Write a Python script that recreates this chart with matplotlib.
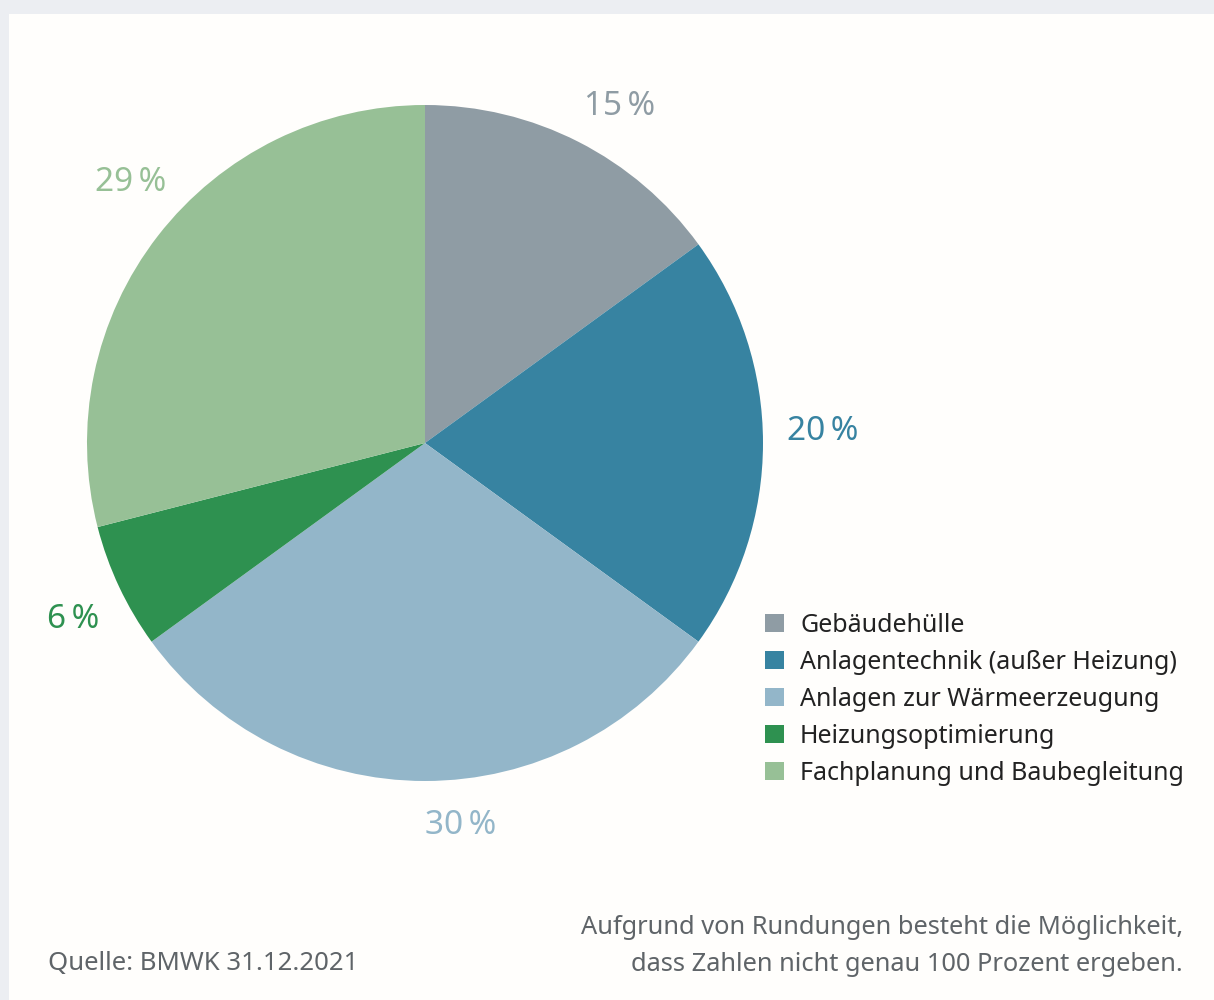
import matplotlib.pyplot as plt
from matplotlib.patches import Rectangle

categories = ['Gebäudehülle', 'Anlagentechnik (außer Heizung)', 'Anlagen zur Wärmeerzeugung',
              'Heizungsoptimierung', 'Fachplanung und Baubegleitung']
shares = [15, 20, 30, 6, 29]
colors = ['#8f9ca4', '#3783a1', '#93b6c9', '#2e9150', '#97c096']

plt.rcParams['font.family'] = ['Noto Sans', 'DejaVu Sans']

fig = plt.figure(figsize=(12.14, 10), dpi=100)
fig.patch.set_facecolor('#eceef2')
# white card
fig.add_artist(Rectangle((9 / 1214, 0), 1, 1 - 14 / 1000, transform=fig.transFigure,
                         facecolor='#fffefc', edgecolor='none', zorder=0))

ax = fig.add_axes([87 / 1214, 219 / 1000, 676 / 1214, 676 / 1000])
wedges, texts = ax.pie(shares, colors=colors, startangle=90, counterclock=False,
                       labels=[f'{s}\u2009%' for s in shares], labeldistance=1.16,
                       wedgeprops=dict(linewidth=0))
# small nudges of the labels (pixels, x right / y down)
nudges = [(17, 13), (6, -12), (36, -10), (3, 10), (15, -20)]
for t, c, (dx, dy) in zip(texts, colors, nudges):
    x, y = t.get_position()
    t.set_position((x + dx / 338, y - dy / 338))
    t.set_color(c)
    t.set_fontsize(24)
    t.set_ha('center')
    t.set_va('center')
ax.set_xlim(-1, 1)
ax.set_ylim(-1, 1)
ax.set_aspect('equal')

fig.legend(wedges, categories, loc='upper left', bbox_to_anchor=(755 / 1214, 1 - 603 / 1000),
           frameon=False, fontsize=18, handlelength=0.75, handleheight=0.75,
           handletextpad=0.65, labelspacing=0.48, labelcolor='#222222', borderaxespad=0)

fig.text(48 / 1214, 1 - 963 / 1000, 'Quelle: BMWK 31.12.2021', fontsize=18.5,
         color='#5f6468', va='center', ha='left')
fig.text(1183 / 1214, 1 - 946 / 1000,
         'Aufgrund von Rundungen besteht die Möglichkeit,\ndass Zahlen nicht genau 100 Prozent ergeben.',
         fontsize=18.3, color='#5f6468', va='center', ha='right', multialignment='right',
         linespacing=1.6)

fig.savefig('out.png', dpi=100, facecolor=fig.get_facecolor())
